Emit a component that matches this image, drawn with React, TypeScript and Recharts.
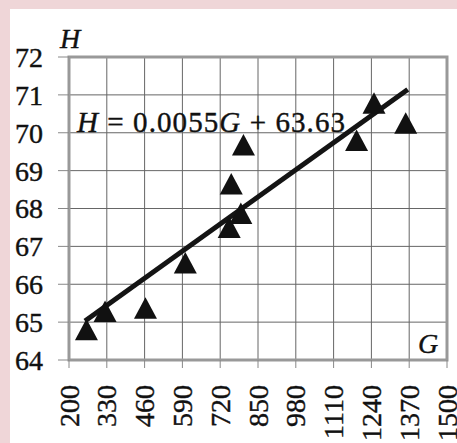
import React from 'react';
import { ScatterChart, Scatter, XAxis, YAxis, CartesianGrid, ReferenceArea } from 'recharts';

// values
const gValues = [260, 324, 463, 600, 751, 758, 791, 800, 1189, 1249, 1358];
const hValues = [64.71, 65.19, 65.28, 66.47, 67.41, 68.56, 67.78, 69.59, 69.71, 70.69, 70.16];
const fitG = [255, 1365];
const fitH = [65.03, 71.14];
const gTicks = [200, 330, 460, 590, 720, 850, 980, 1110, 1240, 1370, 1500];
const hTicks = [64, 65, 66, 67, 68, 69, 70, 71, 72];

const points = gValues.map((g, i) => ({ g, h: hValues[i] }));
const fitLine = fitG.map((g, i) => ({ g, h: fitH[i] }));

const FONT = '"Liberation Serif", serif';
const INK = '#111';

const RotatedTick = (props) => {
    const { x, y, payload } = props;
    return (
        <text
            x={x}
            y={y}
            transform={`rotate(-90, ${x}, ${y})`}
            textAnchor="end"
            dy="0.34em"
            fontSize={28}
            fontFamily={FONT}
            fill={INK}
            stroke={INK}
            strokeWidth={0.4}
        >
            {payload.value}
        </text>
    );
};

// solid triangle, centroid on the point
const Triangle = (props) => {
    const { cx, cy } = props;
    const w = 23;
    const h = 21.5;
    return (
        <polygon
            points={`${cx},${cy - (2 * h) / 3} ${cx - w / 2},${cy + h / 3} ${cx + w / 2},${cy + h / 3}`}
            fill={INK}
        />
    );
};

const NoShape = () => <g />;

export default function App() {
    return (
        <div style={{ position: 'absolute', left: 0, top: 0, width: 457, height: 443, background: '#efd6d8', overflow: 'hidden' }}>
            <div style={{ position: 'absolute', left: 10, top: 9, width: 447, height: 434, background: '#fff' }} />
            <div style={{ position: 'absolute', left: 0, top: 0 }}>
                <ScatterChart width={457} height={443} margin={{ top: 57, right: 10, bottom: 23, left: 0 }}>
                    <CartesianGrid stroke="#666" strokeWidth={1} />
                    <XAxis
                        type="number"
                        dataKey="g"
                        domain={[200, 1500]}
                        ticks={gTicks}
                        interval={0}
                        height={60}
                        axisLine={false}
                        tickSize={8}
                        tickMargin={17}
                        tickLine={{ stroke: '#888' }}
                        tick={RotatedTick}
                    />
                    <YAxis
                        type="number"
                        dataKey="h"
                        domain={[64, 72]}
                        ticks={hTicks}
                        interval={0}
                        width={69}
                        axisLine={false}
                        tickSize={11}
                        tickMargin={15}
                        tickLine={{ stroke: '#888' }}
                        tick={{ fontSize: 28, fontFamily: FONT, fill: INK, stroke: INK, strokeWidth: 0.4 }}
                    />
                    <ReferenceArea x1={200} x2={1500} y1={64} y2={72} fill="none" stroke="#999" strokeWidth={3} />
                    <Scatter
                        data={fitLine}
                        line={{ stroke: '#141414', strokeWidth: 5 }}
                        shape={NoShape}
                        isAnimationActive={false}
                    />
                    <Scatter data={points} shape={Triangle} isAnimationActive={false} />
                </ScatterChart>
            </div>
            <svg width={457} height={443} style={{ position: 'absolute', left: 0, top: 0, pointerEvents: 'none' }}>
                <text x={60} y={48} fontSize={28} fontFamily={FONT} fontStyle="italic" fill={INK} stroke={INK} strokeWidth={0.4}>H</text>
                <text x={418} y={353} fontSize={28} fontFamily={FONT} fontStyle="italic" fill={INK} stroke={INK} strokeWidth={0.4}>G</text>
                <text x={77} y={132} fontSize={29} fontFamily={FONT} fill={INK} stroke={INK} strokeWidth={0.4} textLength={268} lengthAdjust="spacing">
                    <tspan fontStyle="italic">H</tspan> = 0.0055<tspan fontStyle="italic">G</tspan> + 63.63
                </text>
            </svg>
        </div>
    );
}
